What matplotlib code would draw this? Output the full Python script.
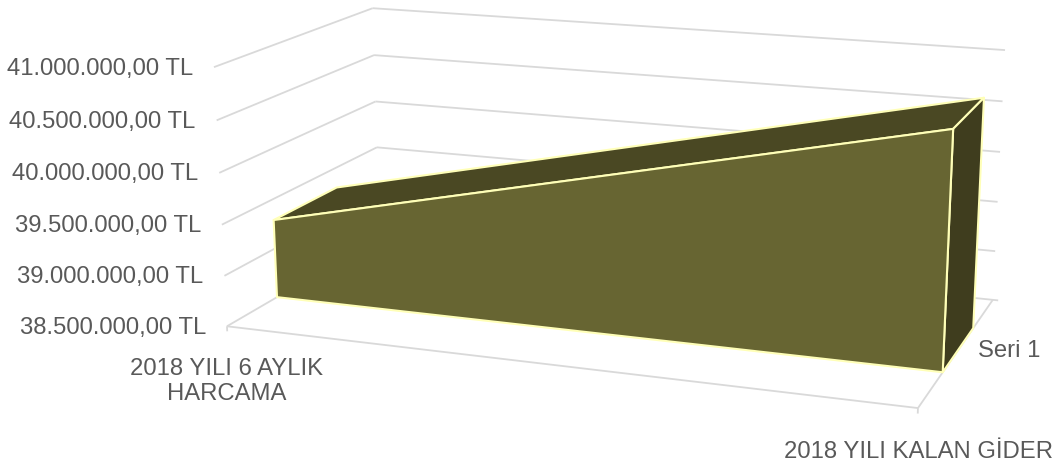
import matplotlib
matplotlib.use('Agg')
import matplotlib.pyplot as plt
import numpy as np

categories = ['2018 YILI 6 AYLIK\nHARCAMA', '2018 YILI KALAN GİDER']
series_name = 'Seri 1'
values = [39290000, 40730000]
ticks = [38500000, 39000000, 39500000, 40000000, 40500000, 41000000]
tick_labels = ['38.500.000,00 TL', '39.000.000,00 TL', '39.500.000,00 TL',
               '40.000.000,00 TL', '40.500.000,00 TL', '41.000.000,00 TL']

plt.rcParams['font.family'] = ['Liberation Sans', 'DejaVu Sans']

# where the chart box corners land on the canvas: (category, depth, value) -> pixel
box_3d = [(0, 0, 38.5e6), (1, 0, 38.5e6), (1, 1, 38.5e6), (0, 0, 41e6), (0, 1, 41e6), (1, 1, 41e6),
          (0, 1, 40e6), (0, 1, 39.5e6), (1, 1, 40e6), (0, 0, 40e6), (0, 0, 39.5e6), (1, 1, 39e6)]
box_px = [(227, 326), (918, 408), (993, 300), (214, 67), (373, 8), (1005, 50),
          (375, 102), (377, 147), (1000, 152), (219, 173), (222, 225), (995, 251)]


def fit_camera(pts, px):
    rows = []
    for (x, y, z), (u, v) in zip(pts, px):
        z = z / 1e6
        rows.append([x, y, z, 1, 0, 0, 0, 0, -u * x, -u * y, -u * z, -u])
        rows.append([0, 0, 0, 0, x, y, z, 1, -v * x, -v * y, -v * z, -v])
    _, _, vt = np.linalg.svd(np.array(rows, dtype=float))
    return vt[-1].reshape(3, 4)


cam = fit_camera(box_3d, box_px)


def proj(x, y, z):
    u, v, w = cam @ np.array([x, y, z / 1e6, 1.0])
    return u / w, v / w


def line3d(ax, a, b, **kw):
    pa, pb = proj(*a), proj(*b)
    ax.plot([pa[0], pb[0]], [pa[1], pb[1]], **kw)


def face(ax, corners, color):
    ax.fill([proj(*c)[0] for c in corners], [proj(*c)[1] for c in corners],
            facecolor=color, edgecolor='#FFFFB8', linewidth=1.5, joinstyle='round', zorder=3)


fig = plt.figure(figsize=(10.61, 4.67), dpi=100)
ax = fig.add_axes([0, 0, 1, 1])
ax.set_xlim(0, 1061)
ax.set_ylim(467, 0)
ax.axis('off')

grid = dict(color='#D9D9D9', linewidth=1.3, solid_capstyle='butt', zorder=1)
text_style = dict(fontsize=17.2, color='#595959')

# walls
for t, lab in zip(ticks, tick_labels):
    line3d(ax, (0, 0, t), (0, 1, t), **grid)
    # the floor line runs a little past the corner
    line3d(ax, (0, 1, t), (1.008 if t == ticks[0] else 1, 1, t), **grid)
    px, py = proj(0, 0, t)
    ax.text(px - 21, py + 1.5, lab, ha='right', va='center', **text_style)

# floor
line3d(ax, (0, 0, ticks[0]), (1, 0, ticks[0]), **grid)
line3d(ax, (1, 0, ticks[0]), (1, 1, ticks[0]), **grid)
line3d(ax, (0, 0, ticks[0]), (0, 0, 38.45e6), **grid)
line3d(ax, (1, 0, ticks[0]), (1, 0, 38.45e6), **grid)

# area block
d0, d1 = 0.30, 0.71
base = ticks[0]
v0, v1 = values
face(ax, [(0, d0, v0), (0, d1, v0), (1, d1, v1), (1, d0, v1)], '#4A4823')
face(ax, [(1, d0, base), (1, d1, base), (1, d1, v1), (1, d0, v1)], '#3F3D1E')
face(ax, [(0, d0, base), (1, d0, base), (1, d0, v1), (0, d0, v0)], '#676532')

# category and series labels
ax.text(227, 381.5, categories[0], ha='center', va='center', linespacing=1.18, **text_style)
ax.text(918, 452, categories[1], ha='center', va='center', **text_style)
ax.text(978, 351, series_name, ha='left', va='center', **text_style)

fig.savefig('out.png', dpi=100)
